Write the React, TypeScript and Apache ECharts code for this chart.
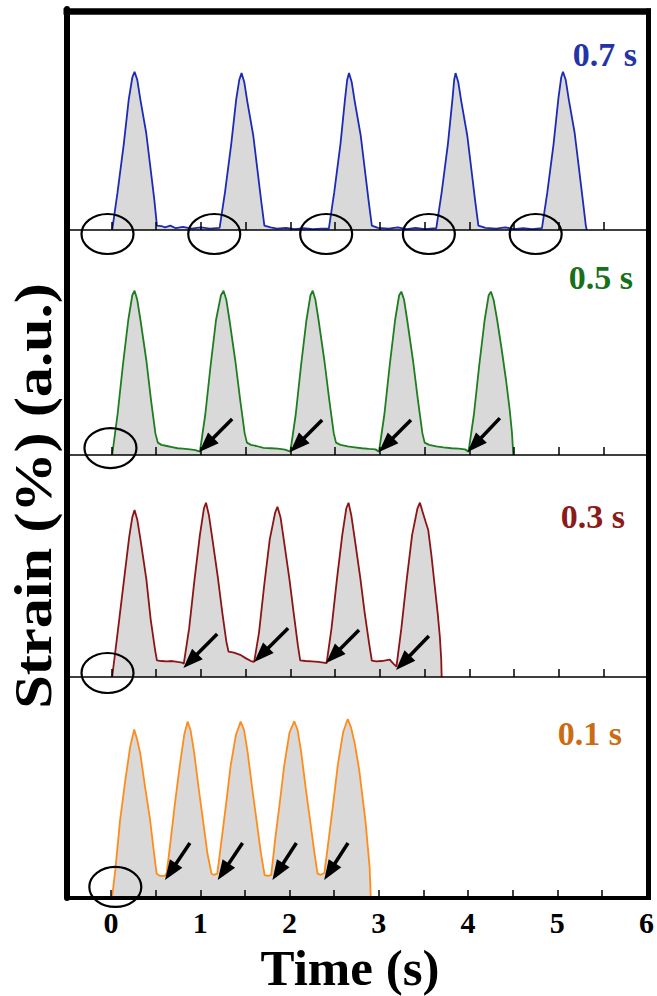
import React, { useEffect, useRef } from 'react';
import * as echarts from 'echarts';

// ---------- data (time in s, strain in a.u., per panel) ----------
const PANEL_LABELS = ['0.7 s', '0.5 s', '0.3 s', '0.1 s'];
const TICK_LABELS = ['0', '1', '2', '3', '4', '5', '6'];

const STRAIN_07: number[][] = [
  [0.01, 0], [0.07, 0.17], [0.14, 0.39], [0.195, 0.59], [0.235, 0.69], [0.26, 0.716], [0.29, 0.68], [0.325, 0.59], [0.39, 0.44], [0.435, 0.29], [0.48, 0.14], [0.51, 0.02],
  [0.56, 0.018], [0.6, 0.012], [0.66, 0.02], [0.72, 0.008], [0.8, 0.014], [0.9, 0.006], [1.0, 0.012], [1.1, 0.006], [1.21, 0.01],
  [1.27, 0.17], [1.34, 0.39], [1.395, 0.59], [1.43, 0.68], [1.455, 0.71], [1.485, 0.67], [1.52, 0.58], [1.585, 0.43], [1.63, 0.28], [1.675, 0.13], [1.71, 0.02],
  [1.78, 0.012], [1.85, 0.006], [1.95, 0.01], [2.05, 0.004], [2.15, 0.008], [2.25, 0.004], [2.35, 0.006], [2.43, 0.006],
  [2.49, 0.17], [2.56, 0.39], [2.61, 0.59], [2.635, 0.68], [2.655, 0.71], [2.685, 0.67], [2.72, 0.58], [2.785, 0.43], [2.83, 0.28], [2.875, 0.13], [2.91, 0.02],
  [2.98, 0.01], [3.1, 0.006], [3.2, 0.012], [3.3, 0.004], [3.4, 0.01], [3.5, 0.004], [3.63, 0.008],
  [3.69, 0.17], [3.76, 0.39], [3.81, 0.59], [3.83, 0.68], [3.845, 0.71], [3.875, 0.67], [3.91, 0.58], [3.975, 0.43], [4.02, 0.28], [4.065, 0.13], [4.1, 0.02],
  [4.18, 0.01], [4.3, 0.006], [4.4, 0.012], [4.5, 0.004], [4.6, 0.008], [4.7, 0.004], [4.81, 0.008],
  [4.87, 0.17], [4.94, 0.39], [4.995, 0.6], [5.025, 0.69], [5.045, 0.716], [5.075, 0.68], [5.11, 0.59], [5.175, 0.44], [5.22, 0.29], [5.265, 0.14], [5.3, 0.02], [5.31, 0],
];

const STRAIN_05: number[][] = [
  [0.01, 0], [0.07, 0.18], [0.13, 0.4], [0.19, 0.6], [0.235, 0.71], [0.26, 0.73], [0.29, 0.69], [0.326, 0.6], [0.392, 0.42], [0.444, 0.244], [0.493, 0.096], [0.52, 0.055],
  [0.56, 0.045], [0.62, 0.04], [0.68, 0.035], [0.74, 0.03], [0.8, 0.028], [0.88, 0.025], [0.94, 0.022], [0.99, 0.015],
  [1.05, 0.18], [1.11, 0.4], [1.17, 0.6], [1.225, 0.71], [1.254, 0.73], [1.285, 0.69], [1.32, 0.6], [1.385, 0.42], [1.44, 0.244], [1.49, 0.096], [1.515, 0.055],
  [1.56, 0.045], [1.62, 0.04], [1.7, 0.032], [1.78, 0.03], [1.86, 0.028], [1.94, 0.024], [2.0, 0.015],
  [2.06, 0.18], [2.12, 0.4], [2.18, 0.6], [2.225, 0.71], [2.25, 0.73], [2.28, 0.69], [2.315, 0.6], [2.38, 0.42], [2.435, 0.244], [2.485, 0.096], [2.51, 0.055],
  [2.56, 0.045], [2.64, 0.038], [2.72, 0.034], [2.8, 0.03], [2.88, 0.027], [2.95, 0.025], [2.99, 0.015],
  [3.05, 0.18], [3.11, 0.4], [3.17, 0.6], [3.215, 0.71], [3.24, 0.726], [3.27, 0.69], [3.305, 0.6], [3.37, 0.42], [3.425, 0.244], [3.475, 0.096], [3.5, 0.055],
  [3.55, 0.045], [3.63, 0.038], [3.71, 0.034], [3.8, 0.03], [3.88, 0.028], [3.95, 0.025], [3.99, 0.015],
  [4.05, 0.18], [4.11, 0.4], [4.17, 0.6], [4.215, 0.71], [4.24, 0.726], [4.27, 0.69], [4.31, 0.6], [4.36, 0.47], [4.41, 0.33], [4.45, 0.2], [4.475, 0.1], [4.49, 0],
];

const STRAIN_03: number[][] = [
  [0.01, 0], [0.065, 0.18], [0.14, 0.43], [0.2, 0.63], [0.235, 0.72], [0.26, 0.752], [0.29, 0.71], [0.326, 0.62], [0.392, 0.44], [0.44, 0.26], [0.49, 0.12], [0.51, 0.075],
  [0.56, 0.072], [0.62, 0.07], [0.68, 0.072], [0.74, 0.068], [0.79, 0.065], [0.81, 0.06],
  [0.87, 0.22], [0.93, 0.44], [0.99, 0.64], [1.035, 0.76], [1.058, 0.785], [1.09, 0.73], [1.13, 0.62], [1.19, 0.45], [1.24, 0.29], [1.285, 0.16], [1.31, 0.114],
  [1.37, 0.11], [1.44, 0.1], [1.5, 0.085], [1.56, 0.072], [1.596, 0.068],
  [1.65, 0.2], [1.71, 0.42], [1.77, 0.62], [1.83, 0.74], [1.856, 0.767], [1.89, 0.72], [1.93, 0.61], [1.99, 0.44], [2.04, 0.28], [2.085, 0.14], [2.11, 0.075],
  [2.17, 0.072], [2.24, 0.07], [2.31, 0.068], [2.37, 0.065], [2.405, 0.063],
  [2.46, 0.22], [2.52, 0.44], [2.58, 0.64], [2.625, 0.76], [2.65, 0.785], [2.68, 0.73], [2.72, 0.62], [2.78, 0.45], [2.83, 0.29], [2.88, 0.15], [2.91, 0.074],
  [2.96, 0.07], [3.02, 0.072], [3.08, 0.076], [3.11, 0.078], [3.15, 0.06], [3.185, 0.047],
  [3.24, 0.22], [3.3, 0.44], [3.36, 0.64], [3.42, 0.76], [3.447, 0.785], [3.48, 0.74], [3.51, 0.7], [3.54, 0.662], [3.575, 0.55], [3.61, 0.42], [3.645, 0.29], [3.67, 0.18], [3.685, 0.08], [3.69, 0],
];

const STRAIN_01: number[][] = [
  [0.01, 0], [0.047, 0.127], [0.1, 0.35], [0.158, 0.53], [0.214, 0.685], [0.259, 0.763], [0.29, 0.72], [0.326, 0.655], [0.38, 0.504], [0.437, 0.353], [0.482, 0.2], [0.51, 0.11], [0.55, 0.1], [0.6, 0.1], [0.623, 0.113],
  [0.67, 0.27], [0.716, 0.43], [0.77, 0.6], [0.82, 0.74], [0.857, 0.798], [0.89, 0.76], [0.93, 0.66], [0.98, 0.5], [1.03, 0.35], [1.08, 0.2], [1.125, 0.11], [1.15, 0.105], [1.19, 0.11],
  [1.24, 0.27], [1.29, 0.43], [1.34, 0.6], [1.4, 0.74], [1.452, 0.798], [1.49, 0.76], [1.53, 0.66], [1.58, 0.5], [1.63, 0.35], [1.68, 0.2], [1.72, 0.104], [1.76, 0.1], [1.794, 0.105],
  [1.84, 0.27], [1.89, 0.43], [1.94, 0.6], [2.0, 0.75], [2.053, 0.8], [2.09, 0.76], [2.13, 0.66], [2.18, 0.5], [2.23, 0.35], [2.28, 0.2], [2.313, 0.11], [2.35, 0.105], [2.39, 0.113],
  [2.44, 0.27], [2.49, 0.43], [2.54, 0.6], [2.6, 0.75], [2.652, 0.81], [2.69, 0.77], [2.73, 0.7], [2.78, 0.58], [2.85, 0.35], [2.897, 0.14], [2.91, 0],
];

// circled onsets [t, strain]
const CIRCLES_07: number[][] = [[-0.042, -0.018], [1.15, -0.018], [2.4, -0.018], [3.547, -0.018], [4.74, -0.018]];
const CIRCLES_05: number[][] = [[-0.009, 0.031]];
const CIRCLES_03: number[][] = [[-0.042, 0.018]];
const CIRCLES_01: number[][] = [[0.047, 0.05]];

// arrows [tipT, tipStrain, tailT, tailStrain]
const ARROWS_07: number[][] = [];
const ARROWS_05: number[][] = [
  [0.983, 0.013, 1.35, 0.16], [1.998, 0.013, 2.355, 0.156], [2.99, 0.013, 3.347, 0.156], [3.98, 0.013, 4.34, 0.164],
];
const ARROWS_03: number[][] = [
  [0.805, 0.04, 1.183, 0.194], [1.596, 0.068, 1.975, 0.22], [2.4, 0.063, 2.767, 0.212], [3.18, 0.032, 3.547, 0.185],
];
const ARROWS_01: number[][] = [
  [0.604, 0.081, 0.883, 0.249], [1.195, 0.081, 1.473, 0.249], [1.808, 0.081, 2.076, 0.249], [2.388, 0.081, 2.655, 0.249],
];

// ---------- styling / layout ----------
const SERIES = [STRAIN_07, STRAIN_05, STRAIN_03, STRAIN_01];
const CIRCLES = [CIRCLES_07, CIRCLES_05, CIRCLES_03, CIRCLES_01];
const ARROWS = [ARROWS_07, ARROWS_05, ARROWS_03, ARROWS_01];
const LINE_COLORS = ['#1c2bb5', '#1e7d1e', '#8b1414', '#ff8c1a'];
const LABEL_COLORS = ['#2533a8', '#17701c', '#8b1a1a', '#cc6c12'];
const GRID_TOPS = [9, 230, 455, 677];
const GRID_HEIGHTS = [221, 225, 222, 221];
const LABEL_POS = [[637, 54], [633, 277], [625, 516], [622, 733]];
const SERIF = '"Liberation Serif", "Times New Roman", serif';

export default function App() {
  const ref = useRef<HTMLDivElement>(null);
  useEffect(() => {
    document.body.style.margin = '0';
    const chart = echarts.init(ref.current!, null, { renderer: 'svg' });
    const grids = GRID_TOPS.map((top, i) => ({ left: 66.5, right: 8.5, top, height: GRID_HEIGHTS[i] }));
    const xAxis = GRID_TOPS.map((_, i) => ({
      type: 'value', gridIndex: i, min: -0.5, max: 6, interval: 0.5, z: 5,
      axisLine: { show: true, onZero: false, lineStyle: { color: '#000', width: i === 3 ? 4 : 1.5 } },
      axisTick: { show: true, inside: true, length: 8, lineStyle: { color: '#000', width: 1.5 } },
      splitLine: { show: false },
      axisLabel: {
        show: i === 3, margin: 12, color: '#000', fontSize: 30, lineHeight: 24, fontWeight: 'bold', fontFamily: SERIF,
        formatter: (v: number) => {
          const r = Math.round(v);
          return Math.abs(v - r) < 1e-6 && r >= 0 ? TICK_LABELS[r] : '';
        },
      },
    }));
    const yAxis = GRID_TOPS.map((_, i) => ({
      type: 'value', gridIndex: i, min: 0, max: 1, z: 5,
      axisLine: { show: true, onZero: false, lineStyle: { color: '#000', width: 6 } },
      axisTick: { show: false }, axisLabel: { show: false }, splitLine: { show: false },
    }));
    const series: any[] = [];
    SERIES.forEach((data, i) => {
      series.push({
        type: 'line', xAxisIndex: i, yAxisIndex: i, data, showSymbol: false, symbol: 'none', z: 2,
        lineStyle: { color: LINE_COLORS[i], width: 1.8 },
        areaStyle: { color: '#d9d9d9', opacity: 1 },
      });
      series.push({
        type: 'custom', xAxisIndex: i, yAxisIndex: i, data: CIRCLES[i], z: 6, clip: false,
        renderItem: (_p: any, api: any) => {
          const c = api.coord([api.value(0), api.value(1)]);
          return {
            type: 'ellipse', shape: { cx: c[0], cy: c[1], rx: 26, ry: 20 },
            style: { fill: 'none', stroke: '#000', lineWidth: 2.2 },
          };
        },
      });
      if (ARROWS[i].length) {
        series.push({
          type: 'custom', xAxisIndex: i, yAxisIndex: i, data: ARROWS[i], z: 6, clip: false,
          renderItem: (_p: any, api: any) => {
            const tip = api.coord([api.value(0), api.value(1)]);
            const tail = api.coord([api.value(2), api.value(3)]);
            const dx = tip[0] - tail[0];
            const dy = tip[1] - tail[1];
            const len = Math.hypot(dx, dy) || 1;
            const ux = dx / len, uy = dy / len;
            const head = 20, half = 7.5;
            const bx = tip[0] - ux * head, by = tip[1] - uy * head;
            return {
              type: 'group',
              children: [
                { type: 'line', shape: { x1: tail[0], y1: tail[1], x2: bx + ux * 3, y2: by + uy * 3 }, style: { stroke: '#000', lineWidth: 3.5 } },
                { type: 'polygon', shape: { points: [[tip[0], tip[1]], [bx - uy * half, by + ux * half], [bx + uy * half, by - ux * half]] }, style: { fill: '#000' } },
              ],
            };
          },
        });
      }
    });
    const graphic: any[] = [
      { type: 'line', z: 100, shape: { x1: 63.5, y1: 11.5, x2: 651, y2: 11.5 }, style: { stroke: '#000', lineWidth: 6.5 } },
      { type: 'line', z: 100, shape: { x1: 648.5, y1: 8.5, x2: 648.5, y2: 900 }, style: { stroke: '#000', lineWidth: 5 } },
      {
        type: 'text', z: 100, x: 350, y: 968,
        style: { text: 'Time (s)', font: `bold 51px ${SERIF}`, lineHeight: 40, fill: '#000', textAlign: 'center', textVerticalAlign: 'middle' },
      },
      {
        type: 'text', z: 100, x: 33, y: 496, rotation: Math.PI / 2, scaleX: 1.16,
        style: { text: 'Strain (%) (a.u.)', font: `bold 52px ${SERIF}`, fill: '#000', textAlign: 'center', textVerticalAlign: 'middle' },
      },
      ...PANEL_LABELS.map((t, i) => ({
        type: 'text', z: 100, x: LABEL_POS[i][0], y: LABEL_POS[i][1],
        style: { text: t, font: `bold 34px ${SERIF}`, fill: LABEL_COLORS[i], textAlign: 'right', textVerticalAlign: 'middle' },
      })),
    ];
    chart.setOption({
      animation: false,
      backgroundColor: '#fff',
      grid: grids, xAxis, yAxis, series, graphic,
    });
    return () => chart.dispose();
  }, []);
  return <div ref={ref} style={{ width: 657, height: 996 }} />;
}
